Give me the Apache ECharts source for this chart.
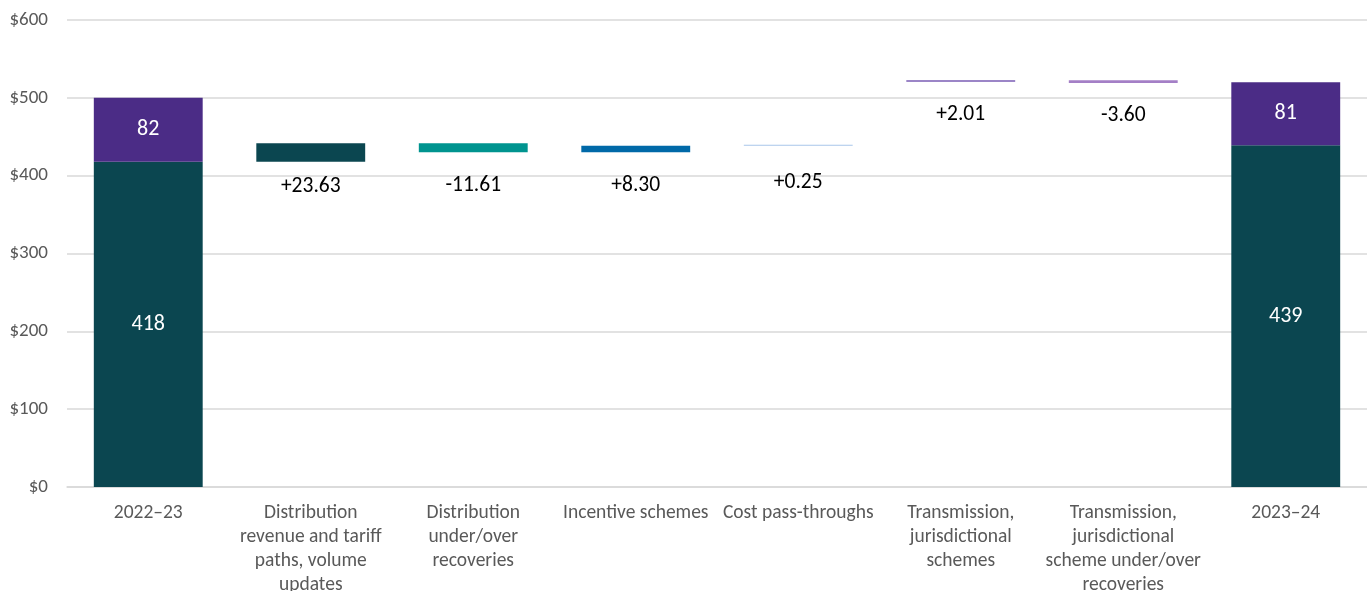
<!DOCTYPE html>
<html>
<head>
<meta charset="utf-8">
<script src="https://cdn.jsdelivr.net/npm/echarts@6/dist/echarts.min.js"></script>
<style>html,body{margin:0;padding:0;background:#fff}#c{width:1367px;height:591px}</style>
</head>
<body>
<div id="c"></div>
<script>
const categories = ['2022–23', 'Distribution\nrevenue and tariff\npaths, volume\nupdates', 'Distribution\nunder/over\nrecoveries', 'Incentive schemes', 'Cost pass-throughs', 'Transmission,\njurisdictional\nschemes', 'Transmission,\njurisdictional\nscheme under/over\nrecoveries', '2023–24'];
const startDistribution = 418;
const startTransmission = 82;
const endDistribution = 439;
const endTransmission = 81;
const distributionChanges = [23.63, -11.61, 8.30, 0.25];
const transmissionChanges = [2.01, -3.60];
const changeColors = ['#0b4650', '#00948f', '#0069a8', '#a9c6ea', '#7a5cb4', '#a47fc6'];
const yTicks = {min: 0, max: 600, interval: 100};

const FONT = 'Carlito, Calibri, Lato, sans-serif';
const n = categories.length;
const base = new Array(n).fill('-');
const delta = new Array(n).fill('-');
let running = startDistribution;
distributionChanges.forEach((v, i) => {
  const next = running + v;
  base[i + 1] = Math.min(running, next);
  delta[i + 1] = {value: Math.abs(v), raw: v, itemStyle: {color: changeColors[i]}};
  running = next;
});
running = running + startTransmission;
transmissionChanges.forEach((v, i) => {
  const idx = distributionChanges.length + 1 + i;
  const next = running + v;
  base[idx] = Math.min(running, next);
  delta[idx] = {value: Math.abs(v), raw: v, itemStyle: {color: changeColors[distributionChanges.length + i]}};
  running = next;
});
delta[1].label = {distance: 14};
delta[4].label = {distance: 26};
const distTotals = new Array(n).fill('-');
const transTotals = new Array(n).fill('-');
distTotals[0] = startDistribution; distTotals[n - 1] = endDistribution;
transTotals[0] = startTransmission; transTotals[n - 1] = endTransmission;

const chart = echarts.init(document.getElementById('c'));
chart.setOption({
  animation: false,
  grid: {left: 67, right: 0, top: 20, bottom: 104, containLabel: false, outerBoundsMode: 'none'},
  xAxis: {
    type: 'category', data: categories,
    axisLine: {lineStyle: {color: '#d9d9d9', width: 1.5}},
    axisTick: {show: false},
    axisLabel: {color: '#595959', fontSize: 19.5, fontFamily: FONT, lineHeight: 24, margin: 14, interval: 0}
  },
  yAxis: {
    type: 'value', min: yTicks.min, max: yTicks.max, interval: yTicks.interval,
    axisLine: {show: false}, axisTick: {show: false},
    splitLine: {lineStyle: {color: '#d9d9d9', width: 1.5}},
    axisLabel: {color: '#595959', fontSize: 19, fontFamily: FONT, margin: 19, formatter: v => '$' + v}
  },
  series: [
    {type: 'bar', stack: 'w', data: base, itemStyle: {color: 'transparent'}, barCategoryGap: '33%', silent: true},
    {type: 'bar', stack: 'w', data: distTotals, itemStyle: {color: '#0b4650'},
     label: {show: true, position: 'inside', color: '#fff', fontSize: 22, fontFamily: FONT}},
    {type: 'bar', stack: 'w', data: transTotals, itemStyle: {color: '#4b2c86'},
     label: {show: true, position: 'inside', color: '#fff', fontSize: 22, fontFamily: FONT}},
    {type: 'bar', stack: 'w', data: delta, barMinHeight: 1,
     label: {show: true, position: 'bottom', distance: 22, color: '#000', fontSize: 21.5, fontFamily: FONT,
       formatter: p => (p.data.raw >= 0 ? '+' : '') + p.data.raw.toFixed(2)}}
  ]
});
</script>
</body>
</html>
